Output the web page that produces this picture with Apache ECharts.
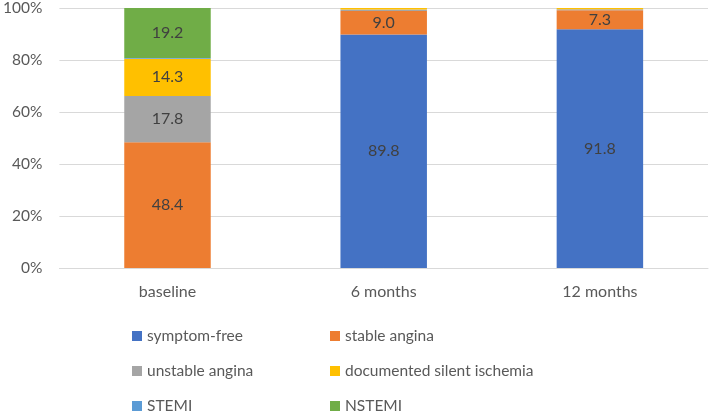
<!DOCTYPE html>
<html><head><meta charset="utf-8">
<script src="https://cdn.jsdelivr.net/npm/echarts@6/dist/echarts.min.js"></script>
<style>html,body{margin:0;padding:0;background:#fff}#c{width:709px;height:412px}</style>
</head><body><div id="c"></div>
<script>
const categories = ['baseline', '6 months', '12 months'];
const seriesNames = ['symptom-free', 'stable angina', 'unstable angina', 'documented silent ischemia', 'STEMI', 'NSTEMI'];
const symptomFree = [0, 89.8, 91.8];
const stableAngina = [48.4, 9.0, 7.3];
const unstableAngina = [17.8, 0.6, 0.4];
const silentIschemia = [14.3, 0.6, 0.5];
const stemi = [0.3, 0, 0];
const nstemi = [19.2, 0, 0];
const yTicks = [0, 20, 40, 60, 80, 100];
const colors = ['#4472C4', '#ED7D31', '#A5A5A5', '#FFC000', '#5B9BD5', '#70AD47'];
const values = [symptomFree, stableAngina, unstableAngina, silentIschemia, stemi, nstemi];
const font = 'Lato';

const chart = echarts.init(document.getElementById('c'));
const legendText = {color: '#595959', fontSize: 15.5, fontFamily: font, lineHeight: 18};
chart.setOption({
  animation: false,
  textStyle: {fontFamily: font},
  grid: {left: 58, right: 1, top: 8, bottom: 144},
  xAxis: {
    type: 'category', data: categories,
    axisLine: {lineStyle: {color: '#d9d9d9'}}, axisTick: {show: false},
    axisLabel: {color: '#595959', fontSize: 16, margin: 16, fontFamily: font}
  },
  yAxis: {
    type: 'value', min: 0, max: 100, interval: 20,
    axisLabel: {color: '#595959', fontSize: 15.5, margin: 17, fontFamily: font,
      formatter: v => yTicks.includes(v) ? v + '%' : ''},
    splitLine: {lineStyle: {color: '#d9d9d9'}},
    axisLine: {show: false}, axisTick: {show: false}
  },
  legend: [
    {orient: 'vertical', left: 127, top: 322, height: 92, itemWidth: 10, itemHeight: 10, itemGap: 17, icon: 'rect',
     data: [seriesNames[0], seriesNames[2], seriesNames[4]], textStyle: legendText},
    {orient: 'vertical', left: 325, top: 322, height: 92, itemWidth: 10, itemHeight: 10, itemGap: 17, icon: 'rect',
     data: [seriesNames[1], seriesNames[3], seriesNames[5]], textStyle: legendText}
  ],
  series: seriesNames.map((n, i) => ({
    name: n, type: 'bar', stack: 'total', barWidth: '40%',
    itemStyle: {color: colors[i]},
    data: values[i],
    label: {show: true, position: 'inside', color: '#404040', fontSize: 16, fontFamily: font,
      formatter: p => p.value >= 5 ? p.value.toFixed(1) : ''}
  }))
});
</script></body></html>
